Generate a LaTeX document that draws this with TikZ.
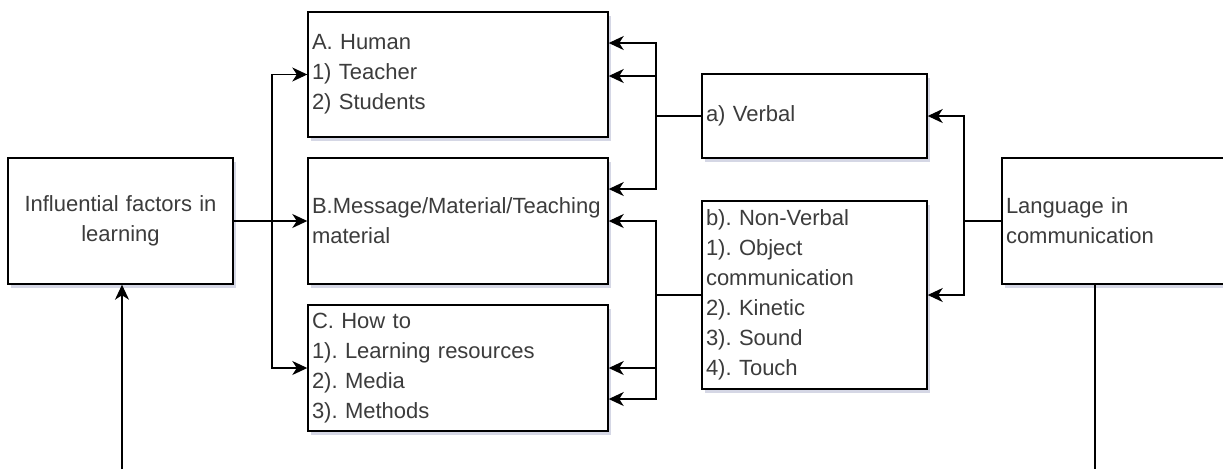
\documentclass[tikz,border=0pt]{standalone}
\usepackage{fontspec}
\setmainfont{Liberation Sans}
\usetikzlibrary{arrows.meta,shadows,calc}
\definecolor{txt}{RGB}{60,60,60}
\definecolor{shd}{RGB}{150,155,190}
\tikzset{
  box/.style={draw=black, line width=1.4pt, fill=white, rectangle, inner xsep=4pt, inner ysep=0pt,
    align=left, text=txt, font=\fontsize{22}{30}\selectfont\frenchspacing,
    drop shadow={shadow xshift=3pt, shadow yshift=-4pt, opacity=0.4, fill=shd}},
  arr/.style={draw=black, line width=1.4pt, -{Stealth[length=15pt,width=14pt,inset=4.5pt]}},
  ln/.style={draw=black, line width=1.4pt},
}
\begin{document}
\begin{tikzpicture}[x=1pt,y=-1pt]
\clip (0,0) rectangle (1223,469);
\fill[white] (0,0) rectangle (1223,469);
% boxes
\node[box, minimum width=225pt, minimum height=126pt, text width=217pt, align=center] (inf) at (120.5,221) {Influential factors in\\learning};
\node[box, minimum width=300pt, minimum height=125pt, text width=292pt] (A) at (458,74.5) {A. Human\\1) Teacher\\2) Students};
\node[box, minimum width=300pt, minimum height=126pt, text width=292pt] (B) at (458,221) {B.Message/Material/Teaching\\material};
\node[box, minimum width=300pt, minimum height=126pt, text width=292pt] (C) at (458,368) {C. How to\\1). Learning resources\\2). Media\\3). Methods};
\node[box, minimum width=225pt, minimum height=84pt, text width=217pt] (V) at (814.5,116) {a) Verbal};
\node[box, minimum width=225pt, minimum height=188pt, text width=217pt] (NV) at (814.5,295) {b). Non-Verbal\\1). Object\\communication\\2). Kinetic\\3). Sound\\4). Touch};
\node[box, minimum width=225pt, minimum height=126pt, text width=217pt] (L) at (1114.5,221) {Language in\\communication};
% coordinates
\coordinate (tl) at (272,221);
\coordinate (vj) at (656,116);
\coordinate (nj) at (656,295);
\coordinate (lj) at (964,221);
\coordinate (botI) at (122,469);
\coordinate (botL) at (1095,469);
\coordinate (Lb) at (1095,284);
\coordinate (A1) at ($(A.east)+(0,-31.5)$);
\coordinate (A2) at ($(A.east)+(0,1.5)$);
\coordinate (B1) at ($(B.east)+(0,-32)$);
\coordinate (B2) at (B.east);
\coordinate (C1) at (C.east);
\coordinate (C2) at ($(C.east)+(0,31)$);
% left connectors
\draw[arr] (inf) -- (B);
\draw[arr] (inf.east) -- (tl) |- (A.west);
\draw[arr] (inf.east) -- (tl) |- (C.west);
\draw[arr] (botI) -- (botI |- inf.south);
% middle connectors
\draw[arr] (V.west) -- (vj) |- (A1);
\draw[arr] (V.west) -- (vj) |- (A2);
\draw[arr] (V.west) -- (vj) |- (B1);
\draw[arr] (NV.west) -- (nj) |- (B2);
\draw[arr] (NV.west) -- (nj) |- (C1);
\draw[arr] (NV.west) -- (nj) |- (C2);
% right connectors
\draw[arr] (L.west) -- (lj) |- (V.east);
\draw[arr] (L.west) -- (lj) |- (NV.east);
\draw[ln] (Lb) -- (botL);
\end{tikzpicture}
\end{document}
